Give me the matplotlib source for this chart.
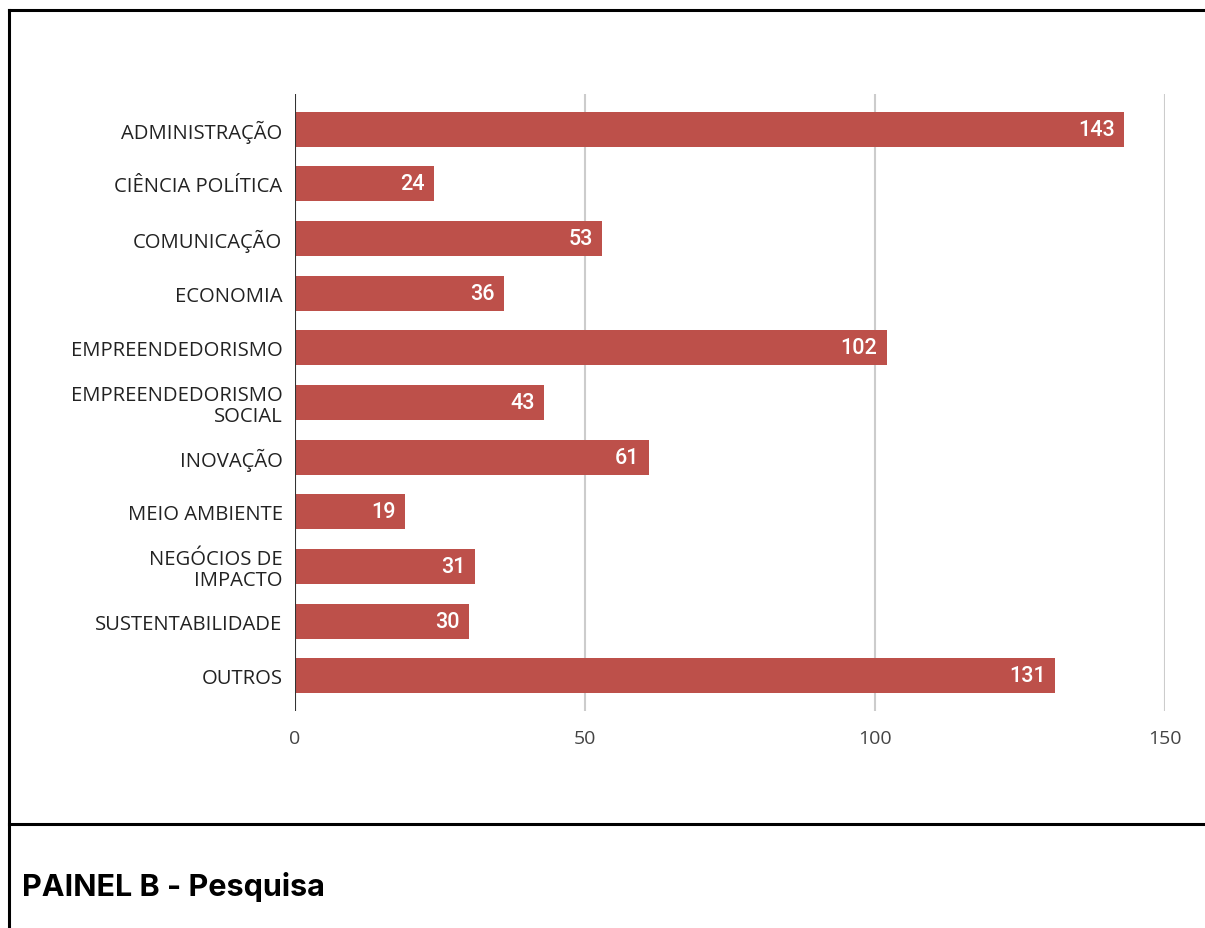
import matplotlib
matplotlib.use("Agg")
import matplotlib.pyplot as plt
from matplotlib.lines import Line2D

categories = [
    "ADMINISTRAÇÃO",
    "CIÊNCIA POLÍTICA",
    "COMUNICAÇÃO",
    "ECONOMIA",
    "EMPREENDEDORISMO",
    "EMPREENDEDORISMO\nSOCIAL",
    "INOVAÇÃO",
    "MEIO AMBIENTE",
    "NEGÓCIOS DE\nIMPACTO",
    "SUSTENTABILIDADE",
    "OUTROS",
]
values = [143, 24, 53, 36, 102, 43, 61, 19, 31, 30, 131]
x_ticks = [0, 50, 100, 150]
panel_title = "PAINEL B - Pesquisa"

W, H = 1205, 929
fig = plt.figure(figsize=(W / 100, H / 100), dpi=100)
fig.patch.set_facecolor("white")

# plot area in pixel terms
left, right, top, bottom = 295, 1165, 95, 712
ax = fig.add_axes([left / W, 1 - bottom / H, (right - left) / W, (bottom - top) / H])

bar_color = "#bd504a"
pos = list(range(len(categories)))
ax.barh(pos, values, height=0.64, color=bar_color, zorder=3)

for p, v in zip(pos, values):
    ax.text(v - 1.6, p, str(v), ha="right", va="center", color="white",
            fontsize=15.5, family="Roboto", fontweight="medium", zorder=4)

ax.set_xlim(0, 150)
ax.set_ylim(len(categories) - 1 + 0.64, -0.64)
ax.set_xticks(x_ticks)
ax.set_xticklabels([str(t) for t in x_ticks], family="Open Sans", fontsize=14,
                   color="#444444")
ax.set_yticks(pos)
ax.set_yticklabels(categories, family="Open Sans", fontsize=14.6, color="#222222",
                   linespacing=1.08)
ax.tick_params(axis="both", length=0)
ax.tick_params(axis="y", pad=9)
ax.tick_params(axis="x", pad=13)

for t in x_ticks[1:]:
    ax.axvline(t, color="#cccccc", lw=1.5, zorder=1)
ax.axvline(0, color="#333333", lw=1.5, zorder=5)

for s in ax.spines.values():
    s.set_visible(False)

# panel frame
def px_line(x0, y0, x1, y1):
    fig.add_artist(Line2D([x0 / W, x1 / W], [1 - y0 / H, 1 - y1 / H],
                          color="black", lw=2.2, transform=fig.transFigure))

px_line(9, 11, W, 11)
px_line(9, 11, 9, H)
px_line(9, 825, W, 825)

fig.text(22 / W, 1 - 887 / H, panel_title, ha="left", va="center",
         fontsize=22, fontweight="bold", family="Inter", color="black")

fig.savefig("out.png", dpi=100, facecolor="white")
